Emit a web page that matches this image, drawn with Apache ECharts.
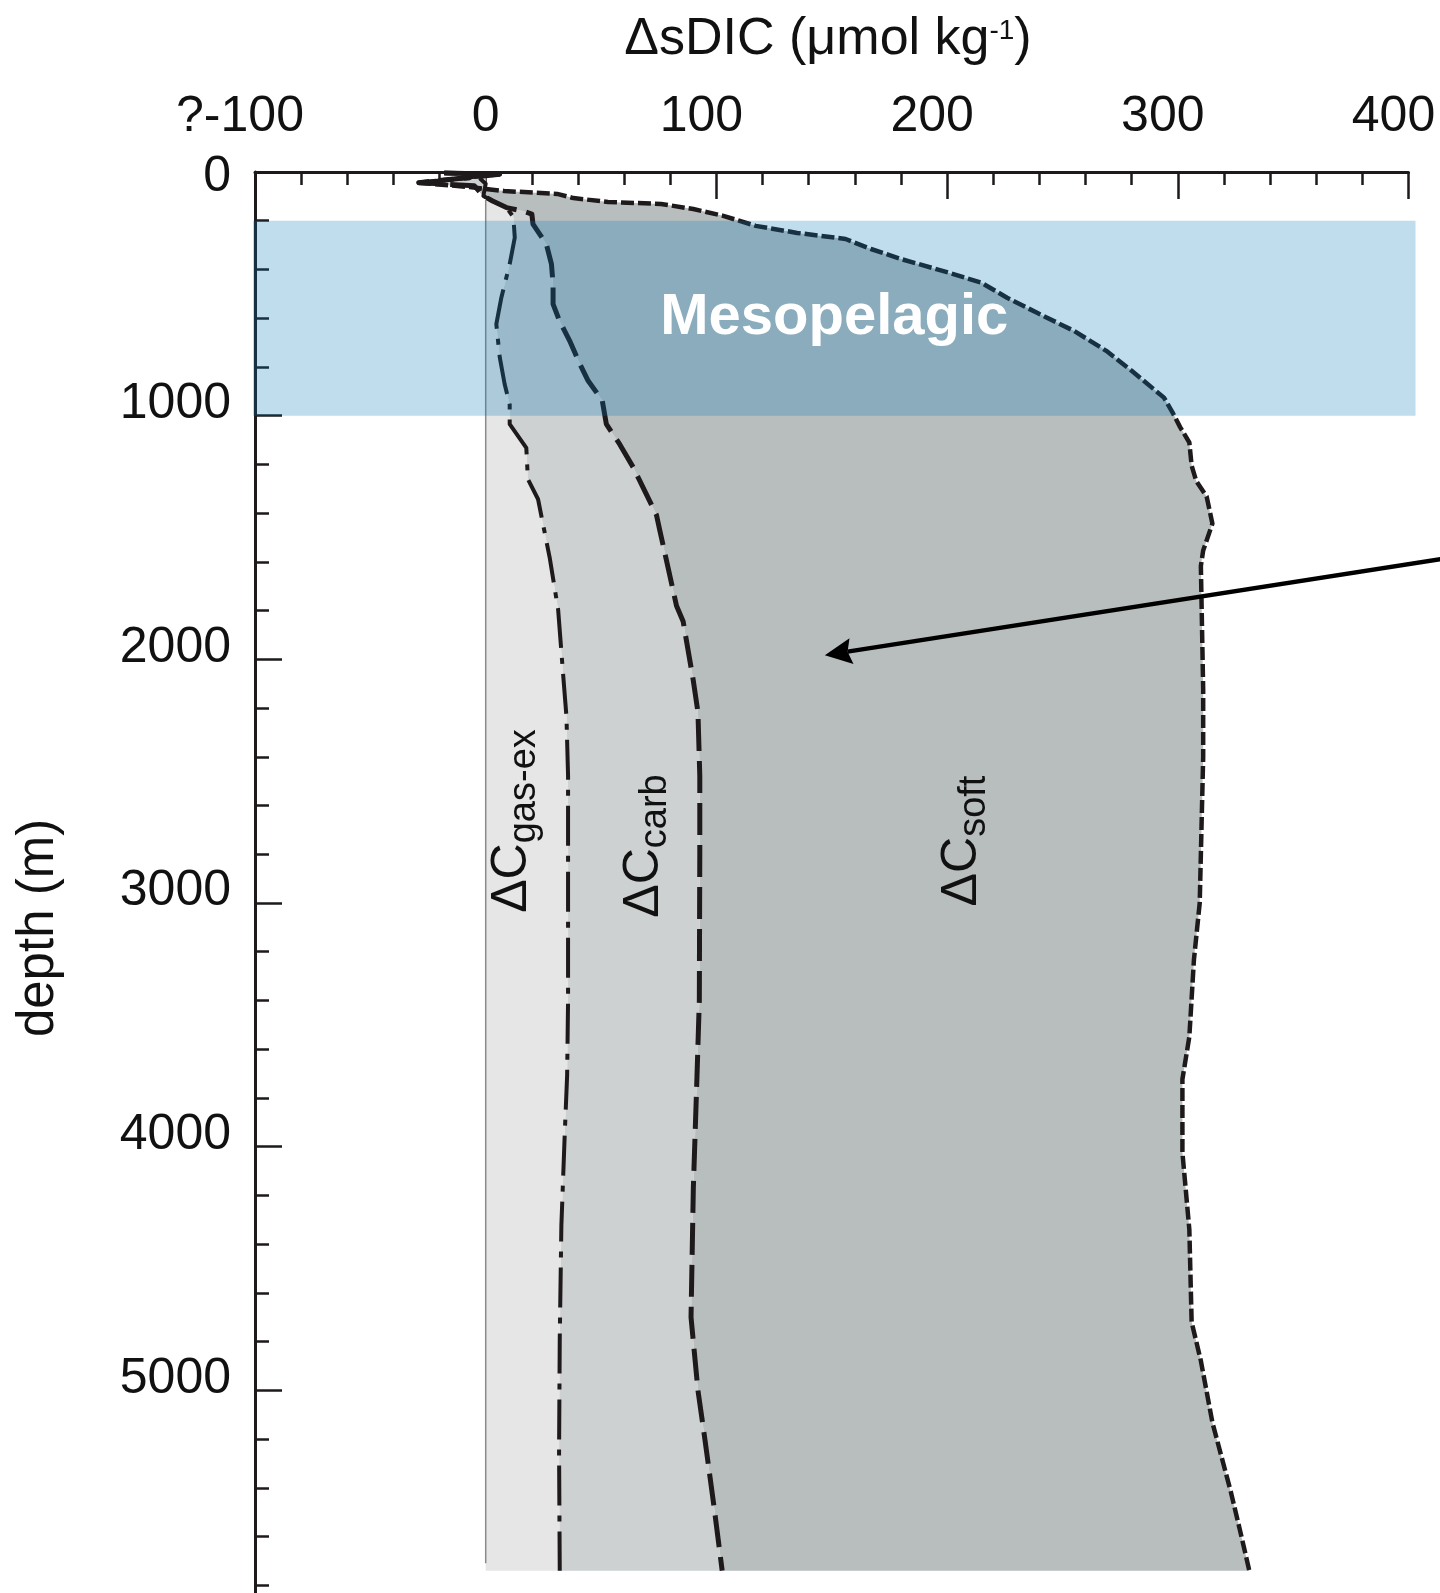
<!DOCTYPE html>
<html>
<head>
<meta charset="utf-8">
<title>ΔsDIC profile</title>
<script src="https://cdn.jsdelivr.net/npm/echarts@6/dist/echarts.min.js"></script>
<style>
  html, body { margin: 0; padding: 0; background: #ffffff; }
  #chart { width: 1440px; height: 1593px; }
</style>
</head>
<body>
<div id="chart"></div>
<script>
// Cumulative ΔsDIC profiles, each point is [ΔsDIC (µmol kg-1), depth (m)]
const gasExProfile = [
  [-18, 4], [6, 9], [-29, 44], [-3, 22], [0, 48], [-1, 98], [3, 119], [9, 146], [12, 185],
  [12.6, 269], [10.4, 378], [6.8, 515], [4.6, 624], [6.1, 761], [8.2, 870], [10.4, 954],
  [10.4, 1035], [17.6, 1132], [18.3, 1261], [22.7, 1343], [27.8, 1586], [31.4, 1796],
  [33.5, 2055], [35, 2234], [35.7, 2477], [35.7, 3400], [35.3, 3707], [34.3, 3939],
  [32.8, 4324], [32.1, 4789], [31.8, 5253], [32.1, 5740]
];
const carbProfile = [
  [-18, 4], [6, 9], [-29, 44], [-5, 56], [-1, 98], [3, 119], [9, 146], [16, 160], [20, 173],
  [20.5, 214], [23.4, 255], [26.3, 296], [28.5, 378], [29.2, 460], [29.2, 542], [32, 611],
  [36.4, 693], [40.8, 788], [44.4, 857], [50.5, 937], [52.3, 1035], [58, 1116], [64, 1213],
  [74, 1407], [75.5, 1472], [82.7, 1780], [85.6, 1845], [90, 2088], [92, 2217], [92.8, 2477],
  [92.8, 2800], [92.6, 3400], [91.6, 3707], [90, 4171], [89, 4700], [92, 5000], [95, 5200],
  [99, 5480], [102.5, 5740]
];
const softProfile = [
  [-18, 4], [6, 9], [-29, 44], [-7, 62], [8, 78], [31, 90], [38, 107], [53, 123], [76, 131],
  [90, 152], [103, 180], [117, 221], [135, 250], [156, 275], [167, 316], [180, 357], [201, 414],
  [215, 455], [226, 516], [239, 578], [255, 652], [269, 734], [280, 816], [294, 926], [298, 992],
  [301, 1047], [305, 1110], [306, 1205], [308, 1268], [312.5, 1332], [315, 1443], [311, 1553],
  [310, 1617], [311, 2123], [311, 2400], [309.5, 3000], [307, 3232], [305, 3549], [302, 3723],
  [302, 4024], [305, 4340], [306, 4720], [310, 4879], [315, 5132], [323, 5417], [327, 5576],
  [331, 5740]
];
// Zero reference line and the mesopelagic depth band [top, bottom]
const zeroLine = [[0, 115], [0, 5710]];
const mesopelagic = [200, 1000];
// Pointer arrow, from the right margin into the soft-tissue region
const arrowPath = [[422, 1577], [147, 1983]];

// Axis ticks
const xTickLabels = ['?-100', '0', '100', '200', '300', '400'];
const depthTickLabels = ['0', '1000', '2000', '3000', '4000', '5000', '6000'];
const X_MIN = -100, X_MAX = 400, X_STEP = 100;
const D_MIN = 0, D_MAX = 6000, D_STEP = 1000;

const FONT = '"Liberation Sans", Arial, Helvetica, sans-serif';
const INK = '#1e1a1b';

// Filled regions between successive cumulative profiles
const gasExArea = gasExProfile.concat([[0, gasExProfile[gasExProfile.length - 1][1]], [0, gasExProfile[0][1]]]);
const carbArea = gasExProfile.concat(carbProfile.slice().reverse());
const softArea = carbProfile.concat(softProfile.slice().reverse());

function regionSeries(name, points, fill) {
  return {
    type: 'custom',
    name: name,
    data: points,
    z: 1,
    silent: true,
    renderItem: function (params, api) {
      if (params.dataIndex !== 0) return null;
      return {
        type: 'polygon',
        shape: { points: points.map(function (p) { return api.coord(p); }) },
        style: { fill: fill }
      };
    }
  };
}

function profileSeries(name, data, dash, width) {
  return {
    type: 'line',
    name: name,
    data: data,
    z: 3,
    silent: true,
    symbol: 'none',
    lineStyle: { color: INK, width: width, type: dash, cap: 'butt', join: 'round' }
  };
}

const chart = echarts.init(document.getElementById('chart'), null, { renderer: 'canvas' });

const option = {
  animation: false,
  backgroundColor: '#ffffff',
  grid: { left: 255, top: 172, width: 1153.5, height: 1462, containLabel: false, outerBoundsMode: 'none' },
  xAxis: {
    type: 'value',
    position: 'top',
    min: X_MIN, max: X_MAX, interval: X_STEP,
    axisLine: { show: true, onZero: false, lineStyle: { color: INK, width: 3 } },
    axisTick: { show: true, inside: true, length: 27, lineStyle: { color: INK, width: 2.5 } },
    minorTick: { show: true, splitNumber: 5, length: 13, lineStyle: { color: INK, width: 2.5 } },
    splitLine: { show: false },
    minorSplitLine: { show: false },
    axisLabel: {
      margin: 30,
      color: '#111111',
      fontFamily: FONT,
      fontSize: 50,
      formatter: function (v) {
        const label = xTickLabels[Math.round((v - X_MIN) / X_STEP)];
        return v === 0 ? '{z|' + label + '}' : '{m|' + label + '}';
      },
      rich: {
        z: { fontFamily: FONT, fontSize: 50, color: '#111111' },
        m: { fontFamily: FONT, fontSize: 50, color: '#111111', padding: [0, 30, 0, 0] }
      }
    }
  },
  yAxis: {
    type: 'value',
    inverse: true,
    min: D_MIN, max: D_MAX, interval: D_STEP,
    axisLine: { show: true, onZero: false, lineStyle: { color: INK, width: 3 } },
    axisTick: { show: true, inside: true, length: 27, lineStyle: { color: INK, width: 2.5 } },
    minorTick: { show: true, splitNumber: 5, length: 14, lineStyle: { color: INK, width: 2.5 } },
    splitLine: { show: false },
    minorSplitLine: { show: false },
    axisLabel: {
      margin: 24,
      color: '#111111',
      fontFamily: FONT,
      fontSize: 50,
      showMaxLabel: false,
      formatter: function (v) {
        const label = depthTickLabels[Math.round((v - D_MIN) / D_STEP)];
        return v === 0 ? '{z|' + label + '}' : '{n|' + label + '}';
      },
      rich: {
        z: { fontFamily: FONT, fontSize: 50, color: '#111111', padding: [11, 0, 0, 0] },
        n: { fontFamily: FONT, fontSize: 50, color: '#111111', padding: [0, 0, 23, 0] }
      }
    }
  },
  series: [
    regionSeries('ΔCgas-ex', gasExArea, '#e6e6e6'),
    regionSeries('ΔCcarb', carbArea, '#cdd1d2'),
    regionSeries('ΔCsoft', softArea, '#b8bebe'),
    {
      type: 'line',
      name: 'zero',
      data: zeroLine,
      z: 2,
      silent: true,
      symbol: 'none',
      lineStyle: { color: '#8a8a8a', width: 1.5 }
    },
    profileSeries('gas-ex', gasExProfile, [40, 10, 6, 10], 4),
    profileSeries('carb', carbProfile, [32, 10], 5),
    profileSeries('soft', softProfile, [13, 4], 4.5),
    {
      type: 'custom',
      name: 'arrow',
      data: arrowPath,
      z: 5,
      silent: true,
      renderItem: function (params, api) {
        if (params.dataIndex !== 0) return null;
        const p0 = api.coord(arrowPath[0]);
        const p1 = api.coord(arrowPath[1]);
        const dx = p1[0] - p0[0], dy = p1[1] - p0[1];
        const len = Math.sqrt(dx * dx + dy * dy);
        const ux = dx / len, uy = dy / len;
        const nx = -uy, ny = ux;
        const headLen = 27, halfW = 13, notch = 4;
        const base = [p1[0] - ux * headLen, p1[1] - uy * headLen];
        const inner = [base[0] + ux * notch, base[1] + uy * notch];
        return {
          type: 'group',
          children: [
            {
              type: 'line',
              shape: { x1: p0[0], y1: p0[1], x2: inner[0], y2: inner[1] },
              style: { stroke: '#000000', lineWidth: 4.5 }
            },
            {
              type: 'polygon',
              shape: {
                points: [
                  p1,
                  [base[0] + nx * halfW, base[1] + ny * halfW],
                  inner,
                  [base[0] - nx * halfW, base[1] - ny * halfW]
                ]
              },
              style: { fill: '#000000' }
            }
          ]
        };
      }
    },
    {
      type: 'custom',
      name: 'Mesopelagic',
      data: [mesopelagic],
      z: 10,
      silent: true,
      renderItem: function (params, api) {
        const cs = params.coordSys;
        const yTop = api.coord([0, api.value(0)])[1];
        const yBot = api.coord([0, api.value(1)])[1];
        return {
          type: 'rect',
          shape: { x: cs.x - 2, y: yTop, width: cs.width + 9, height: yBot - yTop },
          style: { fill: 'rgba(3,119,183,0.25)' },
          textContent: {
            style: {
              text: 'Mesopelagic',
              fill: '#ffffff',
              fontFamily: FONT,
              fontSize: 58,
              fontWeight: 'bold'
            }
          },
          textConfig: { position: 'inside' }
        };
      }
    }
  ],
  graphic: [
    {
      type: 'text',
      x: 828, y: 66, z: 100,
      style: {
        text: '{a|ΔsDIC (μmol kg}{s|-1}{a|)}',
        align: 'center',
        verticalAlign: 'bottom',
        fill: '#111111',
        rich: {
          a: { fontFamily: FONT, fontSize: 52, verticalAlign: 'bottom', fill: '#111111' },
          s: { fontFamily: FONT, fontSize: 28, verticalAlign: 'bottom', padding: [0, 0, 21, 0], fill: '#111111' }
        }
      }
    },
    {
      type: 'text',
      x: 39, y: 928, z: 100,
      rotation: Math.PI / 2,
      style: {
        text: 'depth (m)',
        align: 'center',
        verticalAlign: 'middle',
        fill: '#111111',
        fontFamily: FONT,
        fontSize: 51
      }
    }
  ].concat([
    { sub: 'gas-ex', x: 515.5, y: 821 },
    { sub: 'carb', x: 647, y: 846 },
    { sub: 'soft', x: 965.5, y: 841 }
  ].map(function (l) {
    return {
      type: 'text',
      x: l.x, y: l.y, z: 100,
      rotation: Math.PI / 2,
      style: {
        text: '{d|ΔC}{s|' + l.sub + '}',
        align: 'center',
        verticalAlign: 'middle',
        fill: '#111111',
        rich: {
          d: { fontFamily: FONT, fontSize: 50, verticalAlign: 'bottom', padding: [0, 0, 6, 0], fill: '#111111' },
          s: { fontFamily: FONT, fontSize: 38, verticalAlign: 'bottom', fill: '#111111' }
        }
      }
    };
  }))
};

chart.setOption(option);
</script>
</body>
</html>
